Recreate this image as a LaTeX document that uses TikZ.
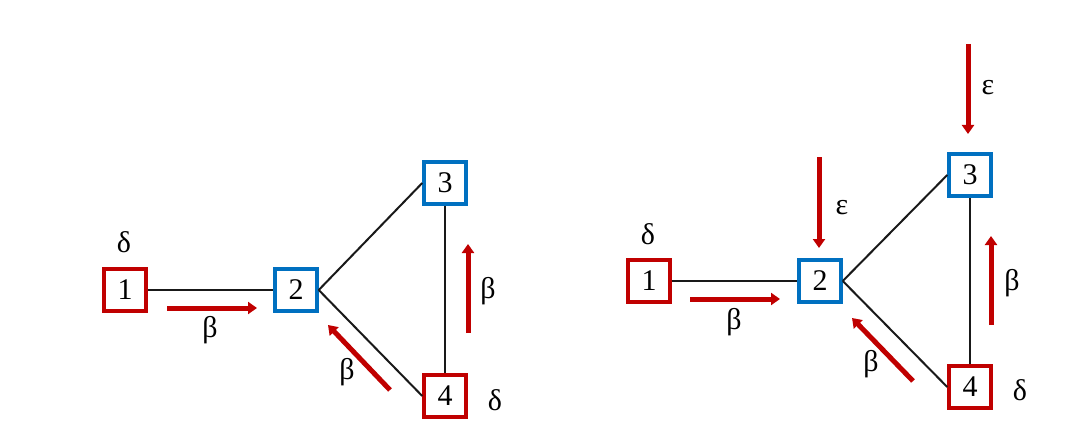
\documentclass[tikz,border=0pt]{standalone}
\usepackage{fontspec}
\setmainfont{Liberation Serif}
\usepackage{tikz}
\usetikzlibrary{arrows.meta,positioning}
\definecolor{Crimson}{HTML}{C00000}
\definecolor{Azure}{HTML}{0070C0}

\begin{document}
\begin{tikzpicture}[x=1pt,y=-1pt,
  every node/.style={font=\fontsize{30}{34}\selectfont,align=center},
  redbox/.style={rectangle,draw=Crimson,line width=3.5pt,minimum size=42pt,inner sep=0pt},
  bluebox/.style={rectangle,draw=Azure,line width=3.5pt,minimum size=42pt,inner sep=0pt},
  link/.style={line width=2pt,color=black!90},
  flow/.style={-{Triangle[length=9pt,width=12pt]},line width=5pt,color=Crimson},
  rate/.style={inner sep=0pt}
]
\useasboundingbox (0,0) rectangle (1086,441);
% left network
\node[redbox] (a1) at (125,290) {1};
\node[bluebox] (a2) at (296,290) {2};
\node[bluebox] (a3) at (445,183) {3};
\node[redbox] (a4) at (445,396) {4};
\node[rate] at (124,242) {δ};
\node[rate] at (495,400) {δ};
\draw[link] (a1.east) -- (a2.west);
\draw[link] (a2.east) -- (a3.west);
\draw[link] (a2.east) -- (a4.west);
\draw[link] (a3.south) -- (a4.north);
\coordinate (a12s) at (167,308); \coordinate (a12e) at (257,308);
\coordinate (a42s) at (390,390); \coordinate (a42e) at (328,325);
\coordinate (a43s) at (468,333); \coordinate (a43e) at (468,244);
\draw[flow] (a12s) -- (a12e);
\draw[flow] (a42s) -- (a42e);
\draw[flow] (a43s) -- (a43e);
\node[rate] at (210,330) {β};
\node[rate] at (347,372) {β};
\node[rate] at (488,291) {β};
% right network
\node[redbox] (b1) at (649,281) {1};
\node[bluebox] (b2) at (820,281) {2};
\node[bluebox] (b3) at (970,175) {3};
\node[redbox] (b4) at (970,387) {4};
\node[rate] at (648,234) {δ};
\node[rate] at (1020,390) {δ};
\draw[link] (b1.east) -- (b2.west);
\draw[link] (b2.east) -- (b3.west);
\draw[link] (b2.east) -- (b4.west);
\draw[link] (b3.south) -- (b4.north);
\coordinate (b12s) at (690,299); \coordinate (b12e) at (780,299);
\coordinate (b42s) at (913,381); \coordinate (b42e) at (852,318);
\coordinate (b43s) at (991,325); \coordinate (b43e) at (991,236);
\coordinate (b2s) at (819,157); \coordinate (b2e) at (819,248);
\coordinate (b3s) at (968,44); \coordinate (b3e) at (968,134);
\draw[flow] (b12s) -- (b12e);
\draw[flow] (b42s) -- (b42e);
\draw[flow] (b43s) -- (b43e);
\draw[flow] (b2s) -- (b2e);
\draw[flow] (b3s) -- (b3e);
\node[rate] at (734,322) {β};
\node[rate] at (871,364) {β};
\node[rate] at (1012,283) {β};
\node[rate] at (842,208) {ε};
\node[rate] at (988,88) {ε};
\end{tikzpicture}
\end{document}
